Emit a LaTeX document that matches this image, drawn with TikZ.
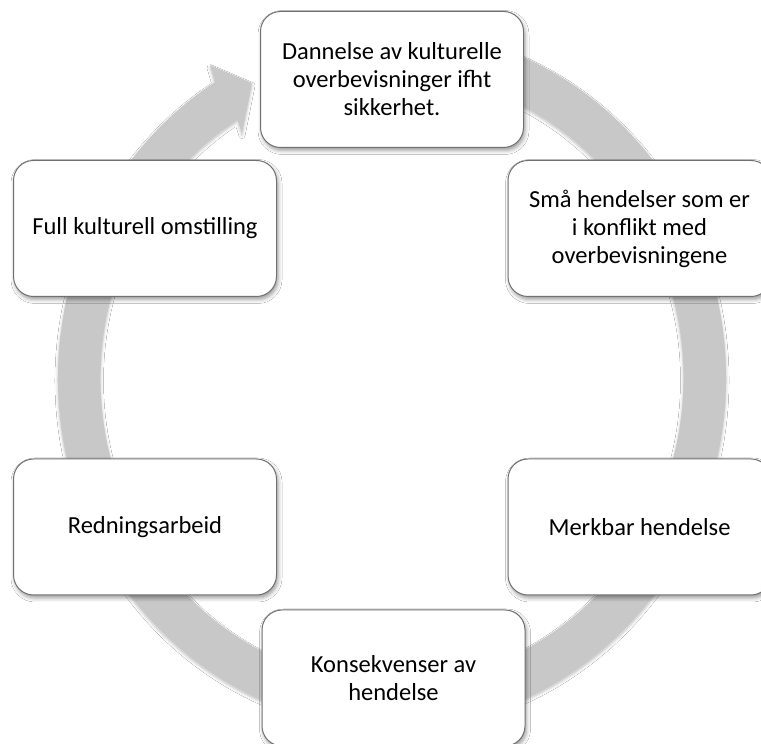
\documentclass[tikz,border=0pt]{standalone}
\usepackage{fontspec}
\setmainfont{Carlito}
\usetikzlibrary{calc,shadows.blur}
\definecolor{ringgray}{HTML}{C8C8C8}
\definecolor{boxline}{HTML}{707070}
\tikzset{
  stage/.style={draw=boxline, line width=1pt, fill=white, rounded corners=20pt,
    minimum width=263pt, minimum height=136pt, align=center, inner sep=4pt,
    font=\fontsize{24.5}{28}\selectfont,
    blur shadow={shadow xshift=1.5pt, shadow yshift=-3pt, shadow blur radius=4pt, shadow opacity=40}},
  ringshade/.style={fill=ringgray,
    blur shadow={shadow xshift=0pt, shadow yshift=-2.5pt, shadow blur radius=3pt, shadow opacity=25}},
}
\begin{document}
\begin{tikzpicture}[x=1pt,y=1pt]
\useasboundingbox (0,0) rectangle (761,744);
\clip (0,0) rectangle (761,744);
\fill[white] (0,0) rectangle (761,744);

% centre of the circular arrow
\coordinate (C) at (392,366);
% arrowhead corners
\coordinate (headout) at (210,679);
\coordinate (tip) at (252,661);
\coordinate (headin) at (242,611);

% big circular arrow running clockwise behind the stages
\path[ringshade]
  ($(C)+(85:334pt and 349pt)$)
    arc[start angle=85, end angle=-238, x radius=334pt, y radius=349pt]
  -- (headout) -- (tip) -- (headin)
  -- ($(C)+(-238:291.5pt and 305pt)$)
    arc[start angle=-238, end angle=85, x radius=291.5pt, y radius=305pt]
  -- cycle;

% stages of the cycle
\node[stage] (form) at (392,664.5) {Dannelse av kulturelle\\overbevisninger ifht\\sikkerhet.};
\node[stage] (small) at (639.5,515.5) {Små hendelser som er\\i konflikt med\\overbevisningene};
\node[stage] (notable) at (639.5,217) {Merkbar hendelse};
\node[stage] (conseq) at (393.5,66) {Konsekvenser av\\hendelse};
\node[stage] (rescue) at (145,217) {Redningsarbeid};
\node[stage] (shift) at (145,515.5) {Full kulturell omstilling};
\end{tikzpicture}
\end{document}
